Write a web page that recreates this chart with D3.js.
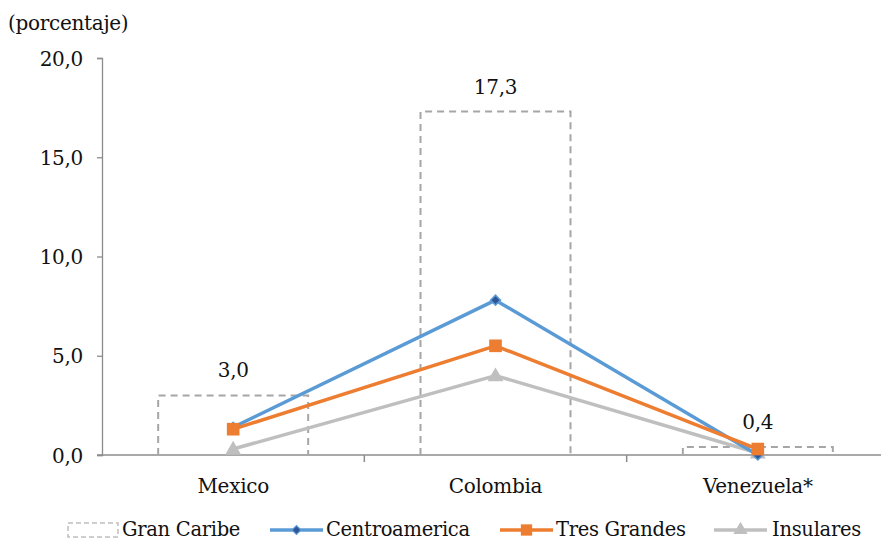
<!DOCTYPE html>
<html>
<head>
<meta charset="utf-8">
<script src="https://cdn.jsdelivr.net/npm/d3@7"></script>
<style>
  html, body { margin: 0; padding: 0; background: #fff; }
</style>
</head>
<body>
<svg id="chart" width="881" height="542"></svg>
<script>
// Categories and series (percent)
const categories = ["Mexico", "Colombia", "Venezuela*"];
const granCaribe = [3.0, 17.3, 0.4];
const centroamerica = [1.4, 7.8, 0.0];
const tresGrandes = [1.3, 5.5, 0.3];
const insulares = [0.3, 4.0, 0.1];
const yTicks = [0, 5, 10, 15, 20];
const barLabels = ["3,0", "17,3", "0,4"];

const FONT = "DejaVu Serif";
const FS = 20;

const svg = d3.select("#chart");
const fmt = v => d3.format(".1f")(v).replace(".", ",");

const plot = { left: 102, right: 889, top: 58, bottom: 455 };

const x = d3.scaleBand().domain(categories).range([plot.left, plot.right]).paddingInner(0).paddingOuter(0);
const y = d3.scaleLinear().domain([0, 20]).range([plot.bottom, plot.top]);
const barW = 150;
const cx = c => x(c) + x.bandwidth() / 2;

const axisColor = "#8c8c8c";
const txt = (sel, size = FS) => sel.style("font-family", FONT).style("font-size", size + "px")
  .style("letter-spacing", "-0.3px").attr("fill", "#111");

// y axis
const yAxis = svg.append("g").attr("transform", `translate(${plot.left},0)`)
  .call(d3.axisLeft(y).tickValues(yTicks).tickSize(5).tickFormat(fmt));
yAxis.select(".domain").attr("stroke", axisColor).attr("stroke-width", 1.3);
yAxis.selectAll(".tick line").attr("stroke", axisColor).attr("stroke-width", 1.3);
yAxis.selectAll(".tick text").attr("x", -19).attr("dy", "0.35em").call(txt);

// x axis with ticks on category boundaries
const xAxisG = svg.append("g").attr("transform", `translate(0,${plot.bottom})`);
xAxisG.append("line").attr("x1", plot.left - 5).attr("x2", plot.right)
  .attr("stroke", axisColor).attr("stroke-width", 1.5);
const bounds = categories.map(c => x(c)).concat([plot.right]);
xAxisG.selectAll("line.b").data(bounds.slice(1)).join("line").attr("class", "b")
  .attr("x1", d => d).attr("x2", d => d).attr("y1", 0).attr("y2", 7)
  .attr("stroke", axisColor).attr("stroke-width", 1.5);
xAxisG.selectAll("text").data(categories).join("text")
  .attr("x", d => cx(d)).attr("y", 38).attr("text-anchor", "middle")
  .call(txt).text(d => d);

// Gran Caribe: dashed outline bars
svg.append("g").selectAll("path").data(categories).join("path")
  .attr("d", (c, i) => {
    const x0 = cx(c) - barW / 2, x1 = cx(c) + barW / 2, yt = y(granCaribe[i]), yb = y(0);
    return `M${x0},${yb}V${yt}H${x1}V${yb}`;
  })
  .attr("fill", "none").attr("stroke", "#a6a6a6").attr("stroke-width", 2)
  .attr("stroke-dasharray", "7,5");

svg.append("g").selectAll("text").data(categories).join("text")
  .attr("x", d => cx(d)).attr("y", (d, i) => y(granCaribe[i]) - 18)
  .attr("text-anchor", "middle").call(txt)
  .text((d, i) => barLabels[i]);

// Line series
const series = [
  { name: "Insulares", values: insulares, color: "#bfbfbf", marker: "triangle", mfill: "#bfbfbf" },
  { name: "Centroamerica", values: centroamerica, color: "#5b9bd5", marker: "diamond", mfill: "#2f5597" },
  { name: "Tres Grandes", values: tresGrandes, color: "#ed7d31", marker: "square", mfill: "#ed7d31" }
];
const symbolOf = m => m === "triangle" ? d3.symbolTriangle : d3.symbolSquare;
const sizeOf = m => m === "triangle" ? 110 : m === "diamond" ? 50 : 160;
const rotOf = m => m === "diamond" ? 45 : 0;
const line = d3.line().x(d => cx(d.c)).y(d => y(d.v));

series.forEach(s => {
  const pts = categories.map((c, i) => ({ c, v: s.values[i] }));
  svg.append("path").datum(pts).attr("d", line).attr("fill", "none")
    .attr("stroke", s.color).attr("stroke-width", 3.5).attr("stroke-linejoin", "round");
  svg.append("g").selectAll("path").data(pts).join("path")
    .attr("transform", d => `translate(${cx(d.c)},${y(d.v) + (s.marker === "triangle" ? 1 : 0)}) rotate(${rotOf(s.marker)})`)
    .attr("d", d3.symbol().type(symbolOf(s.marker)).size(sizeOf(s.marker)))
    .attr("fill", s.mfill)
    .attr("stroke", s.marker === "diamond" ? "#5b9bd5" : "none").attr("stroke-width", 1.5);
});

// Unit label
svg.append("text").attr("x", 8).attr("y", 30).call(txt).text("(porcentaje)");

// Legend
const legendY = 530;
const LFS = 19.5;
const lg = svg.append("g");
lg.append("rect").attr("x", 68).attr("y", legendY - 7).attr("width", 50).attr("height", 14)
  .attr("fill", "none").attr("stroke", "#bfbfbf").attr("stroke-width", 1.5).attr("stroke-dasharray", "5,3");
lg.append("text").attr("x", 122).attr("y", legendY + 6).call(txt, LFS).text("Gran Caribe");

const legendItems = [
  { s: series[1], x0: 270, tx: 326 },
  { s: series[2], x0: 500, tx: 556 },
  { s: series[0], x0: 714, tx: 772 }
];
legendItems.forEach(it => {
  lg.append("line").attr("x1", it.x0).attr("x2", it.x0 + 53).attr("y1", legendY).attr("y2", legendY)
    .attr("stroke", it.s.color).attr("stroke-width", 3.5);
  lg.append("path").attr("transform", `translate(${it.x0 + 26.5},${legendY}) rotate(${rotOf(it.s.marker)})`)
    .attr("d", d3.symbol().type(symbolOf(it.s.marker)).size(sizeOf(it.s.marker) * 0.8))
    .attr("fill", it.s.mfill)
    .attr("stroke", it.s.marker === "diamond" ? "#5b9bd5" : "none").attr("stroke-width", 1.2);
  lg.append("text").attr("x", it.tx).attr("y", legendY + 6).call(txt, LFS).text(it.s.name);
});
</script>
</body>
</html>
